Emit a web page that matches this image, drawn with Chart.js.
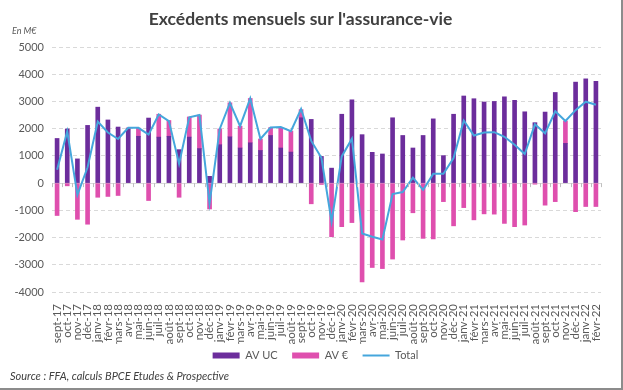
<!DOCTYPE html>
<html lang="fr">
<head>
<meta charset="utf-8">
<script src="https://cdn.jsdelivr.net/npm/chart.js@4"></script>
<style>
  body { margin: 0; background: #fff; }
  #cadre { position: relative; width: 623px; height: 390px; box-sizing: border-box;
           border-right: 2px solid #8c8c8c; border-bottom: 2px solid #8c8c8c; }
  #zone { position: absolute; left: 0; top: 0; width: 621px; height: 388px; }
  #unite { position: absolute; left: 12px; top: 25px; font: italic 9px Lato; color: #595959; }
  #source { position: absolute; left: 10px; top: 369px; font: italic 11px Lato; color: #404040; }
</style>
</head>
<body>
<div id="cadre">
  <div id="zone"><canvas id="graphique"></canvas></div>
  <div id="unite">En M€</div>
  <div id="source">Source : FFA, calculs BPCE Etudes &amp; Prospective</div>
</div>
<script>
// mois de sept-17 à févr-22
var mois = ['sept-17','oct-17','nov-17','déc-17','janv-18','févr-18','mars-18','avr-18','mai-18','juin-18','juil-18','août-18',
  'sept-18','oct-18','nov-18','déc-18','janv-19','févr-19','mars-19','avr-19','mai-19','juin-19','juil-19','août-19',
  'sept-19','oct-19','nov-19','déc-19','janv-20','févr-20','mars-20','avr-20','mai-20','juin-20','juil-20','août-20',
  'sept-20','oct-20','nov-20','déc-20','janv-21','févr-21','mars-21','avr-21','mai-21','juin-21','juil-21','août-21',
  'sept-21','oct-21','nov-21','déc-21','janv-22','févr-22'];

// valeurs en M€
var avUC = [1640,1990,890,2120,2790,2320,2060,1990,1720,2390,1690,1720,
  1230,1690,1270,250,1410,1700,1290,1480,1200,1750,1290,1140,
  2400,2340,980,550,2530,3060,1780,1130,1070,2400,1750,1290,
  1750,2360,1010,2530,3200,3100,2980,3000,3170,3040,2620,2220,
  2610,3330,1460,3710,3830,3740];
var avEuro = [-1190,-100,-1330,-1510,-520,-490,-455,40,300,-640,840,580,
  -520,740,1230,-950,580,1250,800,1630,420,290,760,770,
  300,-760,-50,-1970,-1600,-1450,-3630,-3100,-3140,-2790,-2090,-1090,
  -2030,-2050,-680,-1570,-900,-1350,-1130,-1140,-1480,-1600,-1540,-40,
  -810,-680,820,-1050,-860,-860];
var total = [490,1900,-430,580,2260,1860,1620,2030,2030,1780,2520,2280,
  710,2420,2500,-740,1990,2950,2090,3110,1620,2040,2060,1910,
  2720,1550,930,-1410,980,1630,-1850,-1970,-2070,-400,-330,200,
  -250,340,340,920,2300,1750,1860,1870,1700,1410,1070,2160,
  1830,2640,2280,2680,2990,2880];

var police = 'Lato';

// petites graduations sur la ligne du zéro
var tirets = {
  id: 'tirets',
  afterDatasetsDraw: function(chart) {
    var x = chart.scales.x, y = chart.scales.y, ctx = chart.ctx;
    var y0 = y.getPixelForValue(0);
    var pas = x.getPixelForValue(1) - x.getPixelForValue(0);
    ctx.save();
    ctx.strokeStyle = '#bfbfbf';
    ctx.lineWidth = 1;
    ctx.beginPath();
    for (var i = 0; i <= mois.length; i++) {
      var px = Math.round(x.getPixelForValue(i) - pas / 2) + 0.5;
      ctx.moveTo(px, y0);
      ctx.lineTo(px, y0 + 4);
    }
    ctx.stroke();
    ctx.restore();
  }
};

// décale la légende vers la droite (centrée sous la zone du graphique)
var decalLegende = {
  id: 'decalLegende',
  afterLayout: function(chart) {
    if (chart.legend) chart.legend.left += 30;
  }
};

var ctx = document.getElementById('graphique').getContext('2d');
var graphique = new Chart(ctx, {
  type: 'bar',
  data: {
    labels: mois,
    datasets: [{
      label: 'AV UC',
      data: avUC,
      backgroundColor: '#6c2d9c',
      barThickness: 4,
      stack: 'av',
      order: 1,
      pointStyle: 'rect'
    }, {
      label: 'AV €',
      data: avEuro,
      backgroundColor: '#df4fae',
      barThickness: 4,
      stack: 'av',
      order: 1,
      pointStyle: 'rect'
    }, {
      type: 'line',
      label: 'Total',
      data: total,
      borderColor: '#45a6dc',
      backgroundColor: '#45a6dc',
      borderWidth: 2,
      pointRadius: 0,
      tension: 0,
      stack: 'total',
      order: 0,
      pointStyle: 'line'
    }]
  },
  options: {
    responsive: true,
    maintainAspectRatio: false,
    animation: false,
    layout: { padding: { left: 0, right: 20, top: 0, bottom: 17 } },
    plugins: {
      title: {
        display: true,
        text: "Excédents mensuels sur l'assurance-vie",
        color: '#404040',
        font: { family: police, size: 17.5, weight: 'bold' },
        padding: { top: 9, bottom: 17 }
      },
      legend: {
        position: 'bottom',
        labels: {
          usePointStyle: true,
          pointStyleWidth: 27,
          boxWidth: 27,
          boxHeight: 6,
          padding: 6,
          color: '#595959',
          font: { family: police, size: 11 },
          sort: function(a, b) { return a.datasetIndex - b.datasetIndex; },
          generateLabels: function(chart) {
            var items = Chart.defaults.plugins.legend.labels.generateLabels(chart);
            items.forEach(function(it) {
              if (it.datasetIndex < 2) it.text = it.text + '   ';
            });
            return items;
          }
        }
      },
      tooltip: { enabled: false }
    },
    scales: {
      x: {
        stacked: true,
        grid: { display: false },
        border: { display: false },
        ticks: {
          autoSkip: false,
          maxRotation: 90,
          minRotation: 90,
          padding: 4,
          color: '#595959',
          font: { family: police, size: 11.5 }
        },
        afterFit: function(scale) { scale.height = 52; }
      },
      y: {
        stacked: true,
        min: -4000,
        max: 5000,
        ticks: {
          stepSize: 1000,
          padding: 8,
          color: '#595959',
          font: { family: police, size: 11 },
          callback: function(v) { return String(v); }
        },
        grid: {
          color: '#d9d9d9',
          drawTicks: false
        },
        border: {
          display: false,
          dash: function(c) { return c.tick && c.tick.value === 0 ? [] : [4, 3]; }
        },
        afterFit: function(scale) { scale.width = 52; }
      }
    }
  },
  plugins: [tirets, decalLegende]
});
</script>
</body>
</html>
